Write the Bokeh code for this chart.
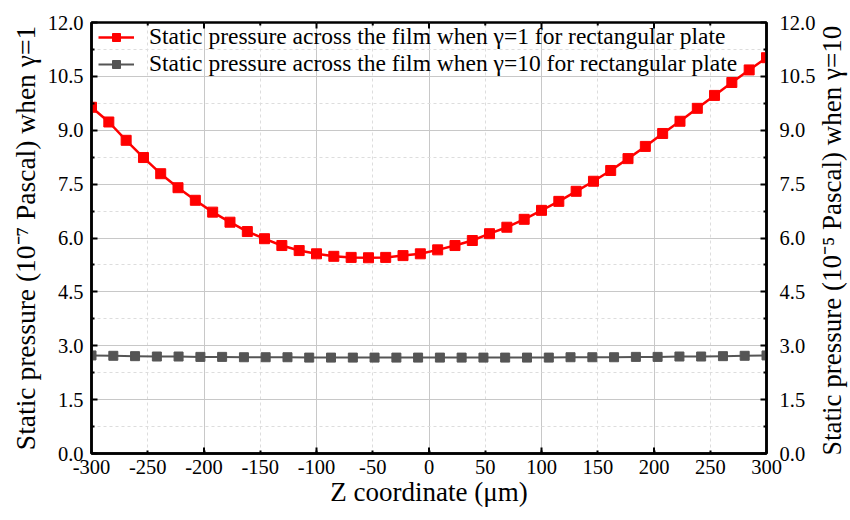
import math
from bokeh.plotting import figure
from bokeh.layouts import row
from bokeh.models import (LinearAxis, Range1d, FixedTicker, Legend, LegendItem)
from bokeh.core.properties import value
from bokeh.embed import file_html
from bokeh.resources import INLINE

# ---- data ----
z_g1 = [-300, -284.6, -269.2, -253.8, -238.5, -223.1, -207.7, -192.3, -176.9, -161.5,
        -146.2, -130.8, -115.4, -100.0, -84.6, -69.2, -53.8, -38.5, -23.1, -7.7,
        7.7, 23.1, 38.5, 53.8, 69.2, 84.6, 100.0, 115.4, 130.8, 146.2,
        161.5, 176.9, 192.3, 207.7, 223.1, 238.5, 253.8, 269.2, 284.6, 300]
p_g1 = [9.64, 9.23, 8.72, 8.24, 7.79, 7.40, 7.05, 6.72, 6.44, 6.18,
        5.98, 5.79, 5.65, 5.56, 5.49, 5.46, 5.45, 5.46, 5.51, 5.56,
        5.67, 5.79, 5.93, 6.12, 6.30, 6.52, 6.77, 7.02, 7.30, 7.58,
        7.88, 8.21, 8.55, 8.91, 9.25, 9.61, 9.97, 10.33, 10.68, 11.02]

z_g10 = [-300, -280.6, -261.3, -241.9, -222.6, -203.2, -183.9, -164.5, -145.2, -125.8,
         -106.5, -87.1, -67.7, -48.4, -29.0, -9.7, 9.7, 29.0, 48.4, 67.7,
         87.1, 106.5, 125.8, 145.2, 164.5, 183.9, 203.2, 222.6, 241.9, 261.3,
         280.6, 300]
p_g10 = [2.73, 2.72, 2.71, 2.70, 2.70, 2.69, 2.69, 2.68, 2.68, 2.68,
         2.67, 2.67, 2.67, 2.67, 2.67, 2.67, 2.67, 2.67, 2.67, 2.67,
         2.67, 2.67, 2.68, 2.68, 2.68, 2.69, 2.69, 2.70, 2.70, 2.71,
         2.72, 2.73]

x_ticks = [-300, -250, -200, -150, -100, -50, 0, 50, 100, 150, 200, 250, 300]
x_major = [-200, -100, 0, 100, 200]
x_minor = [-250, -150, -50, 50, 150, 250]
y_ticks = [0, 1.5, 3, 4.5, 6, 7.5, 9, 10.5, 12]
y_minor = [0.75, 2.25, 3.75, 5.25, 6.75, 8.25, 9.75, 11.25]

legend_1 = "Static pressure across the film when \u03b3=1 for rectangular plate"
legend_10 = "Static pressure across the film when \u03b3=10 for rectangular plate"
xlabel = "Z coordinate (\u03bcm)"
ylabel_left = "Static pressure (10\u207b\u2077 Pascal) when \u03b3=1"
ylabel_right = "Static pressure (10\u207b\u2075 Pascal) when \u03b3=10"

FONT = "Liberation Serif"
TICK_FS = "20.5px"
LABEL_FS = "27.5px"
RIGHT_TITLE_FS = "27px"
LEGEND_FS = "23.5px"

TOTAL_W, H = 850, 520
TITLE_W = 32                      # strip on the right holding the right-hand axis title
W = TOTAL_W - TITLE_W
BL, BR, BT, BB = 91, 50, 22, 67
FRAME_H = H - BT - BB

p = figure(width=W, height=H, output_backend="svg", toolbar_location=None,
           x_range=Range1d(-300, 300), y_range=Range1d(0, 12),
           min_border_left=BL, min_border_right=BR, min_border_top=BT,
           min_border_bottom=BB)
p.extra_y_ranges = {"right": Range1d(0, 12)}

p.outline_line_color = "black"
p.outline_line_width = 2.5
p.background_fill_color = "white"
p.border_fill_color = "white"

def style_axis(ax):
    ax.axis_line_color = "black"
    ax.axis_line_width = 2.5
    ax.major_tick_in = 6
    ax.major_tick_out = 0
    ax.minor_tick_in = 3
    ax.minor_tick_out = 0
    ax.major_tick_line_width = 2
    ax.minor_tick_line_width = 2
    ax.major_tick_line_color = "black"
    ax.minor_tick_line_color = "black"
    ax.major_label_text_font = FONT
    ax.major_label_text_font_size = TICK_FS
    ax.major_label_text_color = "black"
    ax.axis_label_text_font = FONT
    ax.axis_label_text_font_style = "normal"
    ax.axis_label_text_font_size = LABEL_FS
    ax.axis_label_text_color = "black"

# bottom axis
xa = p.xaxis[0]
xa.ticker = FixedTicker(ticks=x_ticks)
xa.major_label_overrides = {t: str(t) for t in x_ticks}
xa.axis_label = xlabel
style_axis(xa)
xa.axis_label_text_font_size = "27px"
xa.major_tick_in = 3
xa.major_label_standoff = 6
xa.axis_label_standoff = 0

# left axis
ya = p.yaxis[0]
ya.ticker = FixedTicker(ticks=y_ticks, minor_ticks=y_minor)
ya.major_label_overrides = {t: "%.1f" % t for t in y_ticks}
ya.axis_label = ylabel_left
style_axis(ya)
ya.major_label_standoff = 8
ya.axis_label_standoff = 4

# right axis (ticks + labels; its title sits in the strip to the right)
ra = LinearAxis(y_range_name="right")
ra.ticker = FixedTicker(ticks=y_ticks, minor_ticks=y_minor)
ra.major_label_overrides = {t: "%.1f" % t for t in y_ticks}
style_axis(ra)
ra.major_label_standoff = 13
p.add_layout(ra, "right")

# longer ticks at every 100 on bottom and top edges, short ones at 50 on top
tick_len = 6 * 12.0 / FRAME_H
minor_len = 3 * 12.0 / FRAME_H
p.segment(x0=x_major, y0=[0] * len(x_major), x1=x_major, y1=[tick_len] * len(x_major),
          line_color="black", line_width=2)
p.segment(x0=x_major, y0=[12] * len(x_major), x1=x_major, y1=[12 - tick_len] * len(x_major),
          line_color="black", line_width=2)
p.segment(x0=x_minor, y0=[12] * len(x_minor), x1=x_minor, y1=[12 - minor_len] * len(x_minor),
          line_color="black", line_width=2)

# grids
p.xgrid.ticker = FixedTicker(ticks=x_major, minor_ticks=x_minor)
p.xgrid.grid_line_color = "#c8c8c8"
p.xgrid.grid_line_width = 1
p.xgrid.minor_grid_line_color = "#dddddd"
p.xgrid.minor_grid_line_dash = "3 3"
p.xgrid.minor_grid_line_width = 1

p.ygrid.ticker = FixedTicker(ticks=y_ticks, minor_ticks=y_minor)
p.ygrid.grid_line_color = "#c8c8c8"
p.ygrid.grid_line_width = 1
p.ygrid.minor_grid_line_color = "#dddddd"
p.ygrid.minor_grid_line_dash = "3 3"
p.ygrid.minor_grid_line_width = 1

# series
r1l = p.line(z_g1, p_g1, line_color="#ff0000", line_width=2.5)
r1m = p.scatter(z_g1, p_g1, marker="square", size=10, fill_color="#ff0000",
                line_color="#ff0000")
r2l = p.line(z_g10, p_g10, line_color="#555555", line_width=2, y_range_name="right")
r2m = p.scatter(z_g10, p_g10, marker="square", size=9, fill_color="#555555",
                line_color="#555555", y_range_name="right")

ROW_H = 26
legend = Legend(items=[LegendItem(label=legend_1, renderers=[r1l, r1m]),
                       LegendItem(label=legend_10, renderers=[r2l, r2m])],
                location=(7, FRAME_H - 2 * ROW_H - 3))
legend.margin = 0
legend.padding = 0
legend.spacing = 0
legend.glyph_width = 36
legend.glyph_height = 20
legend.label_height = 20
legend.label_standoff = 15
legend.label_text_font = FONT
legend.label_text_font_size = LEGEND_FS
legend.label_text_line_height = 1.1
legend.label_text_color = "black"
legend.background_fill_alpha = 0
legend.border_line_color = None
p.add_layout(legend, "center")

# strip holding the right-hand axis title, reading bottom-to-top
t = figure(width=TITLE_W, height=H, output_backend="svg", toolbar_location=None,
           x_range=Range1d(0, TITLE_W), y_range=Range1d(0, H),
           x_axis_type=None, y_axis_type=None,
           min_border_left=0, min_border_right=0, min_border_top=0, min_border_bottom=0)
t.outline_line_color = None
t.background_fill_color = "white"
t.border_fill_color = "white"
t.text(x=[13], y=[H - (BT + FRAME_H / 2) - 26], text=[ylabel_right], angle=math.pi / 2,
       text_align="center", text_baseline="middle", text_font=value(FONT),
       text_font_size=value(RIGHT_TITLE_FS), text_color="black")

layout = row(p, t, spacing=0)
open("out.html", "w").write(file_html(layout, INLINE))
